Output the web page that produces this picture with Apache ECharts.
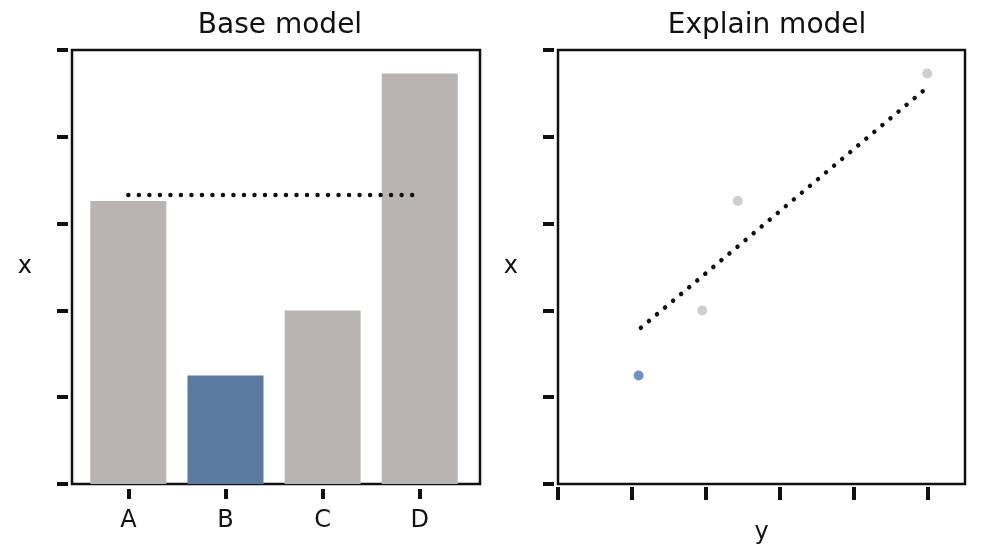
<!DOCTYPE html>
<html>
<head>
<meta charset="utf-8">
<script src="https://cdn.jsdelivr.net/npm/echarts@6/dist/echarts.min.js"></script>
<style>
  html, body { margin: 0; padding: 0; background: #fff; }
  #chart { width: 982px; height: 554px; }
</style>
</head>
<body>
<div id="chart"></div>
<script>
// data
const categories = ['A', 'B', 'C', 'D'];
const baseValues = [3.26, 1.25, 2.0, 4.73];
const highlight = 'B';
const baseMean = 3.33;               // dotted reference line, left panel
const baseLineX = [0, 2.95];
const explainX = [2.43, 1.09, 1.95, 4.99];  // x position of each category, right panel
const fitLineX = [1.12, 4.95];
const fitLineY = [1.80, 4.54];
const yTicks = [0, 1, 2, 3, 4, 5];
const explainTicks = [0, 1, 2, 3, 4, 5];

const font = "'Comic Sans MS', 'Humor Sans', 'DejaVu Sans', sans-serif";
const ink = '#111';
const grey = '#b8b4b1';
const blue = '#5b7a9f';

var chart = echarts.init(document.getElementById('chart'));

let barData = categories.map(function (c, i) {
  return {
    value: [i, baseValues[i]],
    itemStyle: { color: c === highlight ? blue : grey }
  };
});
let dotData = categories.map(function (c, i) {
  return {
    value: [explainX[i], baseValues[i]],
    itemStyle: { color: c === highlight ? '#4a76b5' : '#c2c2c2' }
  };
});

let yAxisBase = {
  type: 'value',
  min: 0,
  max: 5,
  offset: 4,
  axisLine: { show: false, onZero: false },
  axisTick: { show: true, customValues: yTicks, length: 11, lineStyle: { color: ink, width: 4 } },
  axisLabel: { show: false },
  splitLine: { show: false },
  name: 'x',
  nameLocation: 'middle',
  nameRotate: 0,
  nameGap: 36,
  nameTextStyle: { fontFamily: font, fontSize: 24, color: ink }
};

chart.setOption({
  animation: false,
  title: [
    { text: 'Base model', left: 275, top: 7, textAlign: 'center',
      textStyle: { fontFamily: font, fontSize: 28, fontWeight: 'normal', color: ink } },
    { text: 'Explain model', left: 762, top: 7, textAlign: 'center',
      textStyle: { fontFamily: font, fontSize: 28, fontWeight: 'normal', color: ink } }
  ],
  grid: [
    { left: 72, top: 50, width: 408, height: 434, show: true, borderColor: ink, borderWidth: 2.5 },
    { left: 558, top: 50, width: 407, height: 434, show: true, borderColor: ink, borderWidth: 2.5 }
  ],
  xAxis: [
    {
      gridIndex: 0,
      type: 'value',
      min: -0.58,
      max: 3.62,
      offset: 5,
      axisLine: { show: false, onZero: false },
      splitLine: { show: false },
      axisTick: { show: true, customValues: [0, 1, 2, 3], length: 10, lineStyle: { color: ink, width: 4 } },
      axisLabel: {
        customValues: [0, 1, 2, 3],
        formatter: function (v) { return categories[Math.round(v)]; },
        margin: 20,
        fontFamily: font, fontSize: 24, color: ink
      }
    },
    {
      gridIndex: 1,
      type: 'value',
      min: 0,
      max: 5.5,
      offset: 3,
      axisLine: { show: false, onZero: false },
      splitLine: { show: false },
      axisTick: { show: true, customValues: explainTicks, length: 13, lineStyle: { color: ink, width: 4 } },
      axisLabel: { show: false },
      name: 'y',
      nameLocation: 'middle',
      nameGap: 34,
      nameTextStyle: { fontFamily: font, fontSize: 24, color: ink }
    }
  ],
  yAxis: [
    Object.assign({ gridIndex: 0 }, yAxisBase),
    Object.assign({ gridIndex: 1 }, yAxisBase)
  ],
  series: [
    {
      type: 'bar',
      xAxisIndex: 0,
      yAxisIndex: 0,
      barWidth: 76,
      data: barData
    },
    {
      type: 'line',
      xAxisIndex: 0,
      yAxisIndex: 0,
      symbol: 'none',
      lineStyle: { color: ink, width: 4.5, type: [0.01, 10.5], cap: 'round' },
      data: baseLineX.map(function (x) { return [x, baseMean]; }),
      z: 5
    },
    {
      type: 'scatter',
      xAxisIndex: 1,
      yAxisIndex: 1,
      symbolSize: 10,
      data: dotData
    },
    {
      type: 'line',
      xAxisIndex: 1,
      yAxisIndex: 1,
      symbol: 'none',
      lineStyle: { color: ink, width: 4.5, type: [0.01, 10.5], cap: 'round' },
      data: fitLineX.map(function (x, i) { return [x, fitLineY[i]]; })
    }
  ]
});
</script>
</body>
</html>
